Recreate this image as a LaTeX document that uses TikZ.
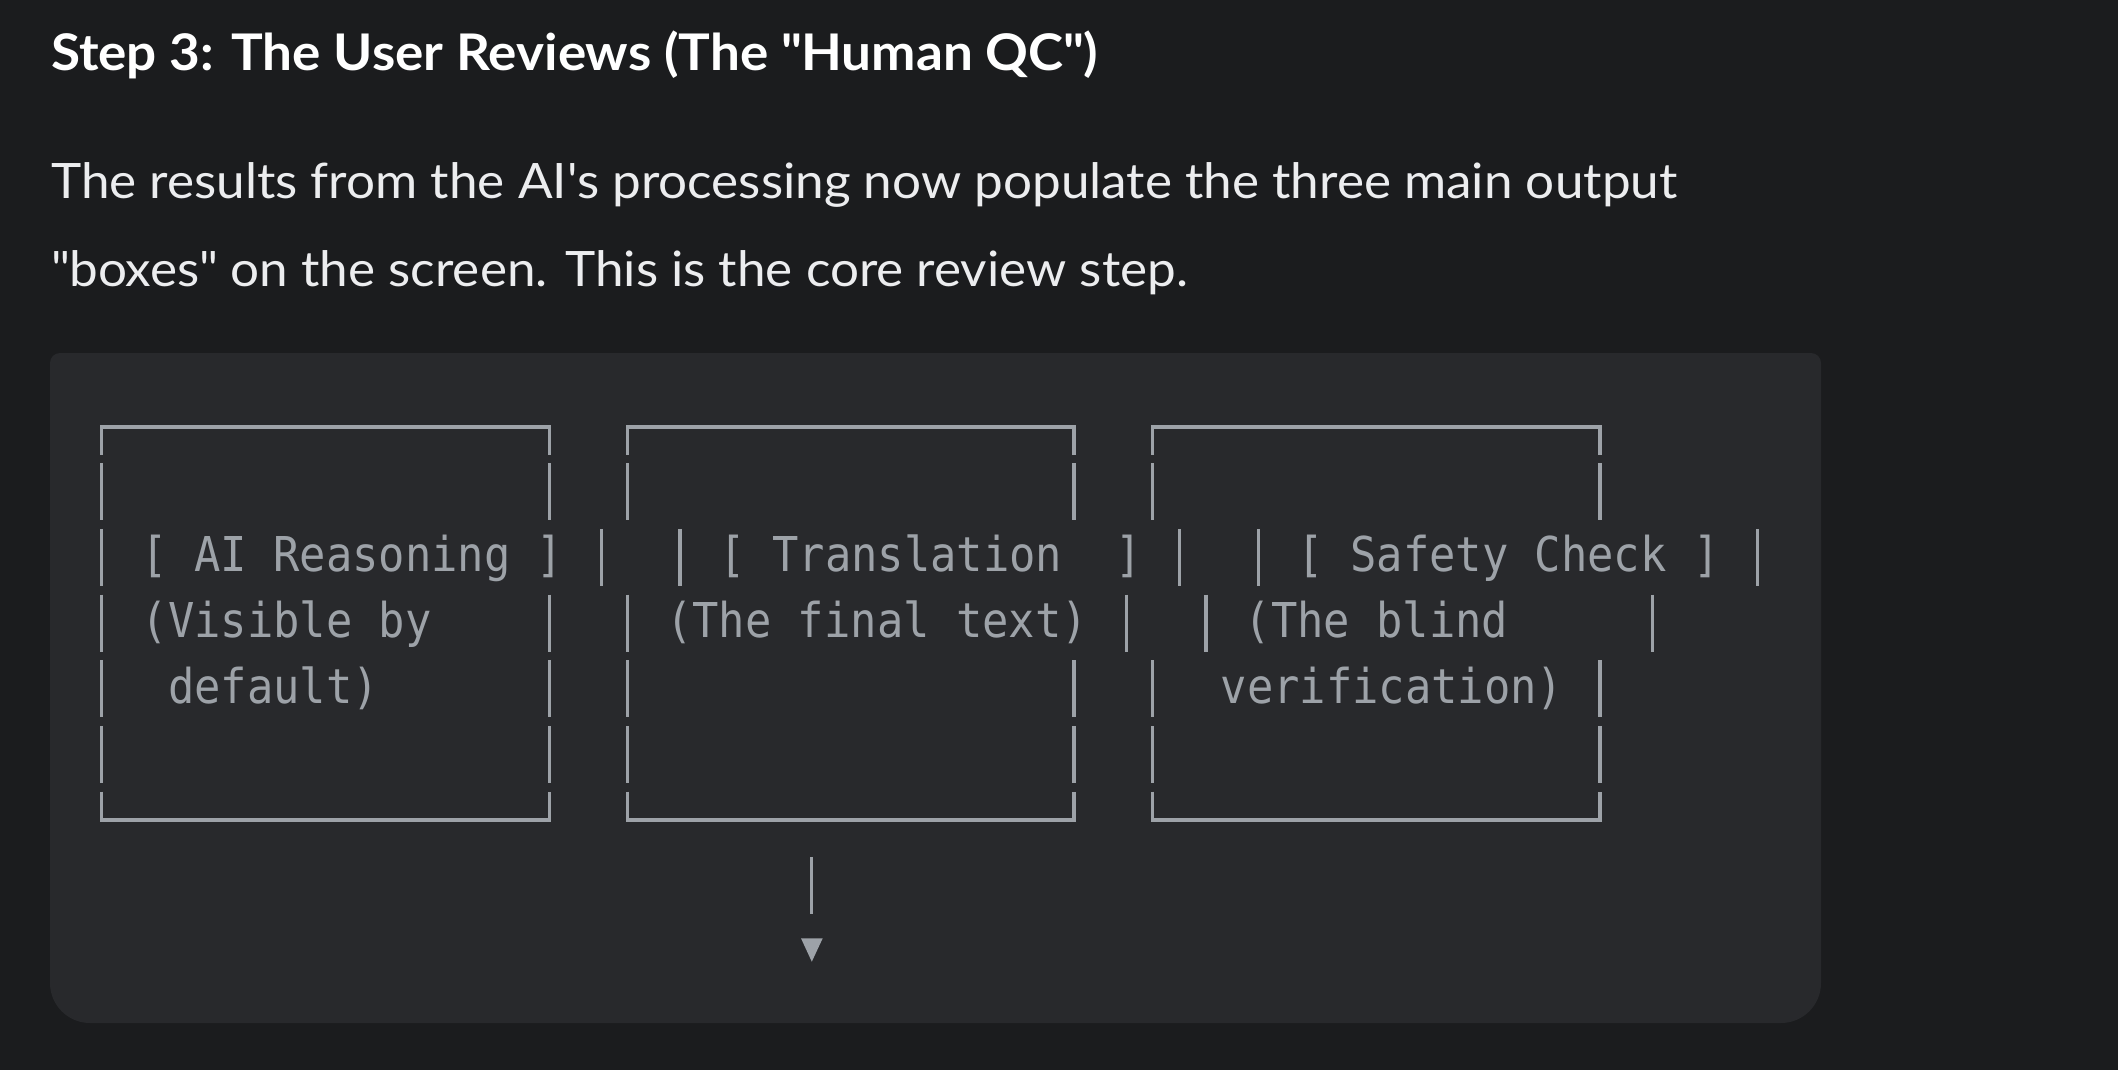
\documentclass[tikz,border=0pt]{standalone}
\usepackage{fontspec}
\setmainfont{Lato}[FakeStretch=1.05]
\newfontfamily\codefont[FakeStretch=0.912]{DejaVu Sans Mono}
\definecolor{pagebg}{HTML}{1B1C1E}
\definecolor{panelbg}{HTML}{28292C}
\definecolor{codegrey}{HTML}{9DA2A8}
\definecolor{bodytext}{HTML}{ECEDEF}

\begin{document}
\begin{tikzpicture}[x=1pt,y=-1pt,
    bar/.style={draw=codegrey,line width=3.3pt},
    code/.style={anchor=base west,inner sep=0pt,text=codegrey,
      font=\codefont\fontsize{48}{48}\selectfont},
    prose/.style={anchor=base west,inner sep=0pt,text=bodytext,
      font=\fontsize{48.8}{48.8}\selectfont}]
  %PAGE et PANNEAU
  \useasboundingbox[fill=pagebg] (0,0) rectangle (2118,1070);
  \fill[panelbg,rounded corners=10pt] (50,353) rectangle (1821,800);
  \fill[panelbg,rounded corners=40pt] (50,500) rectangle (1821,1023);
  %TEXTES DU HAUT
  \node[prose,text=white,font=\bfseries\fontsize{50.5}{50.5}\selectfont] (title) at (51,71)
    {Step 3: The User Reviews (The \textquotedbl Human QC\textquotedbl)};
  \node[prose] (intro1) at (51,198.3)
    {The results from the AI\textquotesingle s processing now populate the three main output};
  \node[prose] (intro2) at (51,286)
    {\textquotedbl boxes\textquotedbl\ on the screen. This is the core review step.};
  %CADRES (haut et bas)
  \foreach \l/\r in {101.7/549.3, 627.7/1074, 1152.7/1600}{
    \draw[bar] (\l,454.5) |- (\r,427) -- (\r,454.5);
    \draw[bar] (\l,791.7) |- (\r,820) -- (\r,791.7);
  }
  %BARRES VERTICALES, ligne par ligne
  \foreach \x/\k in {101.7/2, 549.3/2, 627.7/2, 1074/2, 1152.7/2, 1600/2,
                     101.7/3, 601.7/3, 680/3, 1179.3/3, 1258.3/3, 1757.3/3,
                     101.7/4, 549.3/4, 627.7/4, 1126.7/4, 1206/4, 1652.3/4,
                     101.7/5, 549.3/5, 627.7/5, 1074/5, 1152.7/5, 1600/5,
                     101.7/6, 549.3/6, 627.7/6, 1074/6, 1152.7/6, 1600/6}
    \draw[bar] (\x,{397.5+65.7*(\k-1)}) -- ++(0,57);
  %TEXTES DES CADRES
  \node[code] (reason) at (141.5,571.9) {[ AI Reasoning ]};
  \node[code] (visible) at (141.5,637.6) {(Visible by};
  \node[code] (default) at (141.5,703.3) {\ default)};
  \node[code] (transl) at (719.5,571.9) {[ Translation\ \ ]};
  \node[code] (final) at (666,637.6) {(The final text)};
  \node[code] (safety) at (1297.5,571.9) {[ Safety Check ]};
  \node[code] (blind) at (1244.5,637.6) {(The blind};
  \node[code] (verif) at (1220.5,703.3) {verification)};
  %FLECHE
  \coordinate (stemtop) at (811.7,857.4);
  \coordinate (stembot) at (811.7,914.4);
  \draw[bar] (stemtop) -- (stembot);
  \coordinate (tipL) at (801,938.3);
  \coordinate (tipR) at (822.7,938.3);
  \coordinate (tip) at (811.8,961.7);
  \fill[codegrey] (tipL) -- (tipR) -- (tip) -- cycle;
\end{tikzpicture}
\end{document}
